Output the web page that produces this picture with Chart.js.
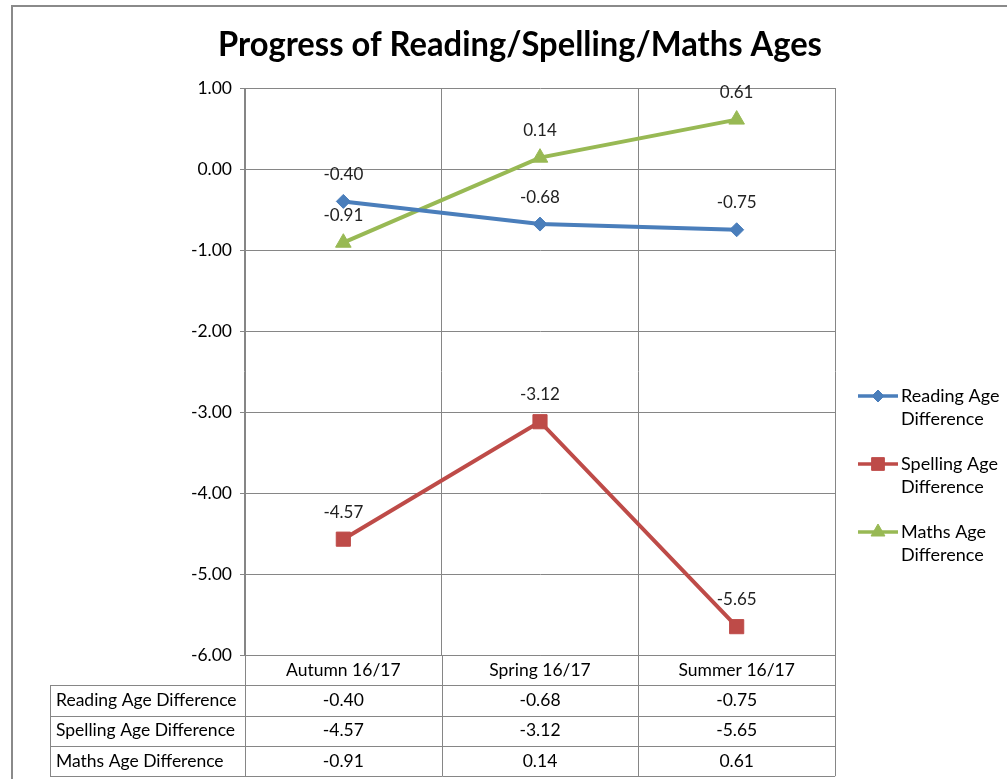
<!DOCTYPE html>
<html>
<head>
<meta charset="utf-8">
<script src="https://cdn.jsdelivr.net/npm/chart.js@4/dist/chart.umd.min.js"></script>
<style>
  body { margin: 0; background: #fff; }
  #wrap { position: relative; width: 1007px; height: 779px; }
</style>
</head>
<body>
<div id="wrap"><canvas id="chart"></canvas></div>
<script>
// Chart values
var categories = ['Autumn 16/17', 'Spring 16/17', 'Summer 16/17'];
var seriesNames = ['Reading Age Difference', 'Spelling Age Difference', 'Maths Age Difference'];
var legendLines = [['Reading Age', 'Difference'], ['Spelling Age', 'Difference'], ['Maths Age', 'Difference']];
var readingAge = [-0.40, -0.68, -0.75];
var spellingAge = [-4.57, -3.12, -5.65];
var mathsAge = [-0.91, 0.14, 0.61];
var yMin = -6;
var yMax = 1;

var colors = ['#4a7ebb', '#be4b48', '#98b954'];
var markers = ['rectRot', 'rect', 'triangle'];
var markerSizes = [7, 10, 9];
var gridColor = '#868686';
var fontName = 'Lato, "Liberation Sans", sans-serif';

var values = [readingAge, spellingAge, mathsAge];

// Draws title, data labels, legend, data table and frame
var extrasPlugin = {
  id: 'extras',
  afterDatasetsDraw: function (chart) {
    var ctx = chart.ctx;
    ctx.save();
    ctx.font = '17px ' + fontName;
    ctx.fillStyle = '#222';
    ctx.textAlign = 'center';
    ctx.textBaseline = 'middle';
    chart.data.datasets.forEach(function (ds, i) {
      chart.getDatasetMeta(i).data.forEach(function (pt, j) {
        ctx.fillText(ds.data[j].toFixed(2), pt.x, pt.y - 27);
      });
    });
    ctx.restore();
  },
  afterDraw: function (chart) {
    var ctx = chart.ctx;
    var area = chart.chartArea;
    var xs = chart.scales.x;
    ctx.save();

    // frame
    ctx.strokeStyle = '#8a8a8a';
    ctx.lineWidth = 2;
    ctx.beginPath();
    ctx.moveTo(12, 779);
    ctx.lineTo(12, 6);
    ctx.lineTo(1007, 6);
    ctx.stroke();

    // title
    ctx.fillStyle = '#000';
    ctx.font = 'bold 34px ' + fontName;
    ctx.textAlign = 'center';
    ctx.textBaseline = 'middle';
    ctx.fillText('Progress of Reading/Spelling/Maths Ages', 520, 45, 604);

    // data table
    var tableLeft = 50;
    var rowH = 30.3;
    var top = area.bottom;
    var step = xs.getPixelForValue(1) - xs.getPixelForValue(0);
    var bounds = [area.left];
    for (var k = 0; k < categories.length; k++) {
      bounds.push(xs.getPixelForValue(k) + step / 2);
    }
    bounds[bounds.length - 1] = area.right;
    var bottom = top + rowH * 4;

    ctx.strokeStyle = gridColor;
    ctx.lineWidth = 1;
    ctx.beginPath();
    bounds.forEach(function (bx) {
      ctx.moveTo(Math.round(bx) + 0.5, top);
      ctx.lineTo(Math.round(bx) + 0.5, bottom);
    });
    ctx.moveTo(tableLeft + 0.5, top + rowH);
    ctx.lineTo(tableLeft + 0.5, bottom);
    for (var r = 1; r <= 4; r++) {
      var ly = Math.round(top + rowH * r) + 0.5;
      ctx.moveTo(tableLeft, ly);
      ctx.lineTo(area.right, ly);
    }
    ctx.stroke();

    ctx.fillStyle = '#000';
    ctx.font = '17.5px ' + fontName;
    ctx.textBaseline = 'middle';
    ctx.textAlign = 'center';
    categories.forEach(function (c, j) {
      ctx.fillText(c, xs.getPixelForValue(j), top + rowH / 2);
    });
    seriesNames.forEach(function (name, i) {
      var cy = top + rowH * (i + 1) + rowH / 2;
      ctx.textAlign = 'left';
      ctx.fillText(name, tableLeft + 6, cy, area.left - tableLeft - 8);
      ctx.textAlign = 'center';
      values[i].forEach(function (v, j) {
        ctx.fillText(v.toFixed(2), xs.getPixelForValue(j), cy);
      });
    });

    // legend
    var legendTop = 396;
    var gap = 68;
    seriesNames.forEach(function (name, i) {
      var cy = legendTop + gap * i;
      ctx.strokeStyle = colors[i];
      ctx.fillStyle = colors[i];
      ctx.lineWidth = 3.5;
      ctx.beginPath();
      ctx.moveTo(858, cy);
      ctx.lineTo(898, cy);
      ctx.stroke();
      ctx.lineWidth = 1;
      Chart.helpers.drawPoint(ctx, {
        pointStyle: markers[i],
        radius: markerSizes[i] - 1,
        borderWidth: 1
      }, 878, cy);
      ctx.fillStyle = '#000';
      ctx.textAlign = 'left';
      ctx.font = '18px ' + fontName;
      ctx.fillText(legendLines[i][0], 901, cy);
      ctx.fillText(legendLines[i][1], 901, cy + 23);
    });

    ctx.restore();
  }
};

var ctxEl = document.getElementById('chart');
new Chart(ctxEl, {
  type: 'line',
  data: {
    labels: categories,
    datasets: values.map(function (v, i) {
      return {
        label: seriesNames[i],
        data: v,
        borderColor: colors[i],
        backgroundColor: colors[i],
        borderWidth: 4,
        pointStyle: markers[i],
        pointRadius: markerSizes[i],
        pointHoverRadius: markerSizes[i],
        pointBorderWidth: 1,
        tension: 0
      };
    })
  },
  options: {
    responsive: true,
    maintainAspectRatio: false,
    animation: false,
    layout: { padding: { left: 185, right: 172, top: 88, bottom: 124 } },
    plugins: {
      legend: { display: false },
      title: { display: false },
      tooltip: { enabled: false }
    },
    scales: {
      x: {
        offset: true,
        grid: { offset: true, color: gridColor, drawTicks: false },
        border: { color: gridColor },
        ticks: { display: false },
        afterFit: function (scale) { scale.height = 0; }
      },
      y: {
        min: yMin,
        max: yMax,
        grid: { color: gridColor, tickLength: 5 },
        border: { color: gridColor },
        ticks: {
          stepSize: 1,
          padding: 8,
          color: '#000',
          font: { family: fontName, size: 17.5 },
          callback: function (v) { return Number(v).toFixed(2); }
        },
        afterFit: function (scale) { scale.width = 60; }
      }
    }
  },
  plugins: [extrasPlugin]
});
</script>
</body>
</html>
